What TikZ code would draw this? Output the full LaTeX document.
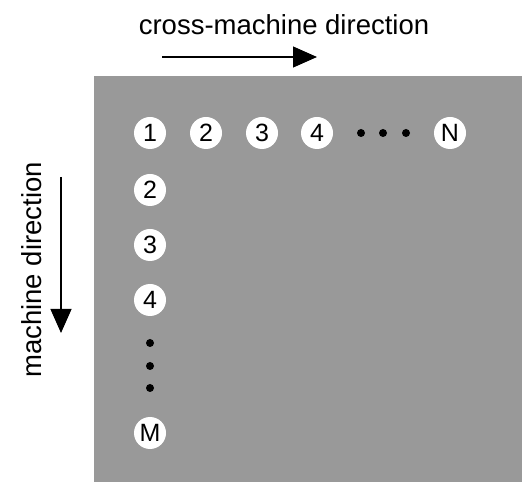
\documentclass[tikz,border=0pt]{standalone}
\usepackage{fontspec}
\setmainfont{Liberation Sans}
\usetikzlibrary{arrows.meta}

\begin{document}
\begin{tikzpicture}[x=1pt,y=1pt,
    cell/.style={circle, fill=white, minimum size=32pt, inner sep=0pt,
      font=\fontsize{25}{30}\selectfont},
    dot/.style={circle, fill=black, minimum size=8pt, inner sep=0pt},
    label/.style={font=\fontsize{27.5}{33}\selectfont},
    dirarrow/.style={line width=1.2pt, -{Triangle[length=24pt,width=21pt]}}]
    \useasboundingbox (0,0) rectangle (522,482);
    \fill[black!40] (94,0) rectangle (522,406);

    % first row
    \node[cell] (r1) at (150,349) {1};
    \node[cell] (r2) at (206,349) {2};
    \node[cell] (r3) at (262,349) {3};
    \node[cell] (r4) at (317,349) {4};
    \node[dot] (rd1) at (361,349) {};
    \node[dot] (rd2) at (383,349) {};
    \node[dot] (rd3) at (406,349) {};
    \node[cell] (rn) at (450,349) {N};

    % first column
    \node[cell] (c2) at (150,292) {2};
    \node[cell] (c3) at (150,237) {3};
    \node[cell] (c4) at (150,182) {4};
    \node[dot] (cd1) at (150,139) {};
    \node[dot] (cd2) at (150,116) {};
    \node[dot] (cd3) at (150,94) {};
    \node[cell] (cm) at (150,49) {M};

    % directions
    \node[label] (cross) at (284,457) {cross-machine direction};
    \node[label, rotate=90] (machine) at (32,212) {machine direction};
    \coordinate (cstart) at (162,425);
    \coordinate (cend) at (317,425);
    \coordinate (mstart) at (61,305);
    \coordinate (mend) at (61,149);
    \draw[dirarrow] (cstart) -- (cend);
    \draw[dirarrow] (mstart) -- (mend);
\end{tikzpicture}
\end{document}
